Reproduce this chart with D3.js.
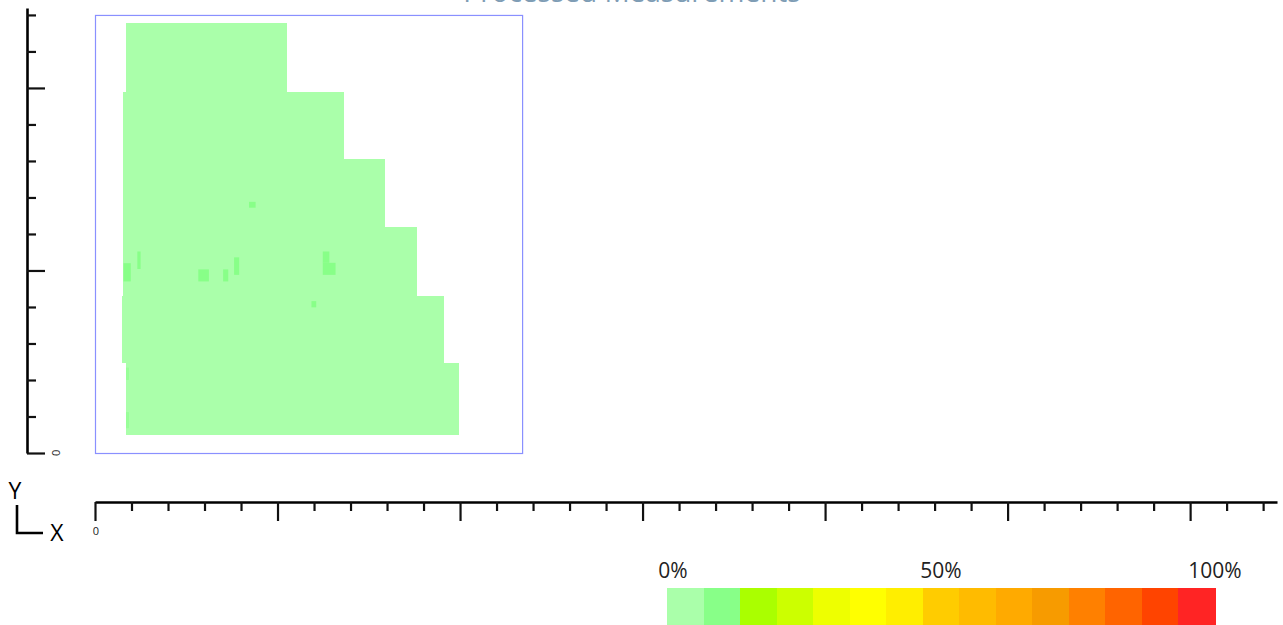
<!DOCTYPE html>
<html>
<head>
<meta charset="utf-8">
<script src="https://cdn.jsdelivr.net/npm/d3@7"></script>
<style>
  html, body { margin: 0; padding: 0; background: #fff; overflow: hidden; }
  svg { display: block; font-family: "Open Sans", "Noto Sans", sans-serif; }
</style>
</head>
<body>
<svg id="chart" width="1283" height="625"></svg>
<script>
// ---- data (units) ----
const titleText = "Processed Measurements";
// stepped rows of the measured area (top, bottom, left, right, value %)
const rowTop    = [11.77, 9.88, 8.04, 6.18, 4.31, 2.46];
const rowBottom = [9.88, 8.04, 6.18, 4.31, 2.46, 0.49];
const rowLeft   = [0.85, 0.76, 0.77, 0.76, 0.74, 0.85];
const rowRight  = [5.26, 6.82, 7.95, 8.82, 9.56, 9.96];
const rowValue  = [3, 3, 3, 3, 3, 3];
// small higher-value spots (x0, x1, yTop, yBottom, value %)
const spotX0   = [4.22, 0.78, 1.16, 2.83, 3.51, 3.81, 6.24, 5.93, 6.24, 0.85, 0.85];
const spotX1   = [4.40, 0.98, 1.25, 3.12, 3.65, 3.95, 6.42, 6.06, 6.59, 0.93, 0.93];
const spotTop  = [6.88, 5.20, 5.52, 5.03, 5.03, 5.36, 5.52, 4.16, 5.21, 2.34, 1.12];
const spotBot  = [6.72, 4.70, 5.04, 4.70, 4.70, 4.88, 5.21, 3.99, 4.88, 2.00, 0.68];
const spotVal  = [10, 10, 10, 10, 10, 10, 10, 10, 10, 8, 8];
// legend
const legendColors = ["#aaffaa","#88ff88","#aaff00","#ccff00","#eeff00","#ffff00","#ffee00",
                      "#ffcc00","#ffbb00","#ffaa00","#f79b00","#ff8000","#ff6400","#ff4400","#ff2424"];
const legendLabels = ["0%", "50%", "100%"];
const legendLabelValues = [0, 50, 100];
const xTicks = d3.range(0, 33);
const yTicks = d3.range(0, 13);

// ---- scales ----
const svg = d3.select("#chart");
const x = d3.scaleLinear().domain([0, 32.38]).range([95, 1277]);
const y = d3.scaleLinear().domain([0, 12.19]).range([453, 8]);
const color = d3.scaleQuantize().domain([0, 100]).range(legendColors);

// title (mostly above the viewport, as in the reference)
svg.append("text").attr("x", 632).attr("y", 2).attr("text-anchor", "middle")
  .attr("font-size", 28).attr("fill", "#7f9db5").text(titleText);

// frame of the measured region
svg.append("rect")
  .attr("x", x(0) + 0.5).attr("y", y(12) + 0.5)
  .attr("width", x(11.7) - x(0)).attr("height", y(0) - y(12))
  .attr("fill", "none").attr("stroke", "#8a90ff").attr("stroke-width", 1.2);

// rows
const rows = rowTop.map((t, i) => ({t, b: rowBottom[i], l: rowLeft[i], r: rowRight[i], v: rowValue[i]}));
svg.append("g").selectAll("rect").data(rows).join("rect")
  .attr("x", d => x(d.l)).attr("y", d => y(d.t))
  .attr("width", d => x(d.r) - x(d.l)).attr("height", d => y(d.b) - y(d.t))
  .attr("fill", d => color(d.v)).attr("shape-rendering", "crispEdges");

// spots
const spots = spotX0.map((s, i) => ({x0: s, x1: spotX1[i], t: spotTop[i], b: spotBot[i], v: spotVal[i]}));
svg.append("g").selectAll("rect").data(spots).join("rect")
  .attr("x", d => x(d.x0)).attr("y", d => y(d.t))
  .attr("width", d => x(d.x1) - x(d.x0)).attr("height", d => y(d.b) - y(d.t))
  .attr("fill", d => color(d.v)).attr("opacity", d => d.v < 9 ? 0.5 : 1);

// ---- Y axis ----
const yAxis = d3.axisRight(y).tickValues(yTicks).tickFormat("").tickSizeOuter(0);
const gy = svg.append("g").attr("transform", "translate(27,0)").call(yAxis);
gy.select(".domain").attr("stroke", "#000").attr("stroke-width", 2.6);
gy.selectAll(".tick line").attr("stroke", "#111").attr("stroke-width", 2.2)
  .attr("x2", d => d % 5 === 0 ? 18 : 9);
svg.append("text").attr("transform", `translate(56,${y(0)}) rotate(90)`)
  .attr("text-anchor", "middle").attr("dy", "0.35em").attr("font-size", 11).attr("fill", "#222").text("0");

// ---- X axis ----
const xAxis = d3.axisBottom(x).tickValues(xTicks).tickFormat("").tickSizeOuter(0);
const gx = svg.append("g").attr("transform", "translate(0,502)").call(xAxis);
gx.select(".domain").attr("stroke", "#000").attr("stroke-width", 2.6);
gx.selectAll(".tick line").attr("stroke", "#111").attr("stroke-width", 2.2)
  .attr("y2", d => d % 5 === 0 ? 19 : 9);
svg.append("text").attr("x", x(0) + 1).attr("y", 535).attr("text-anchor", "middle")
  .attr("font-size", 11).attr("fill", "#222").text("0");

// ---- orientation icon ----
const ic = svg.append("g");
ic.append("text").attr("x", 15).attr("y", 499).attr("text-anchor", "middle")
  .attr("font-size", 23).attr("fill", "#000").text("Y");
ic.append("path").attr("d", "M17,505 V533 H43").attr("fill", "none")
  .attr("stroke", "#000").attr("stroke-width", 2.6);
ic.append("text").attr("x", 57).attr("y", 541).attr("text-anchor", "middle")
  .attr("font-size", 23).attr("fill", "#000").text("X");

// ---- legend ----
const lx = d3.scaleLinear().domain([0, 100]).range([667, 1215]);
const step = 100 / legendColors.length;
svg.append("g").selectAll("rect").data(legendColors).join("rect")
  .attr("x", (d, i) => lx(i * step)).attr("y", 588)
  .attr("width", (d, i) => lx((i + 1) * step) - lx(i * step) + 0.5).attr("height", 37)
  .attr("fill", d => d).attr("shape-rendering", "crispEdges");
svg.append("g").selectAll("text").data(legendLabels).join("text")
  .attr("x", (d, i) => lx(legendLabelValues[i]) + (i === 0 ? 6 : 0))
  .attr("y", 578).attr("text-anchor", "middle")
  .attr("font-size", 21).attr("fill", "#222").text(d => d);
</script>
</body>
</html>
